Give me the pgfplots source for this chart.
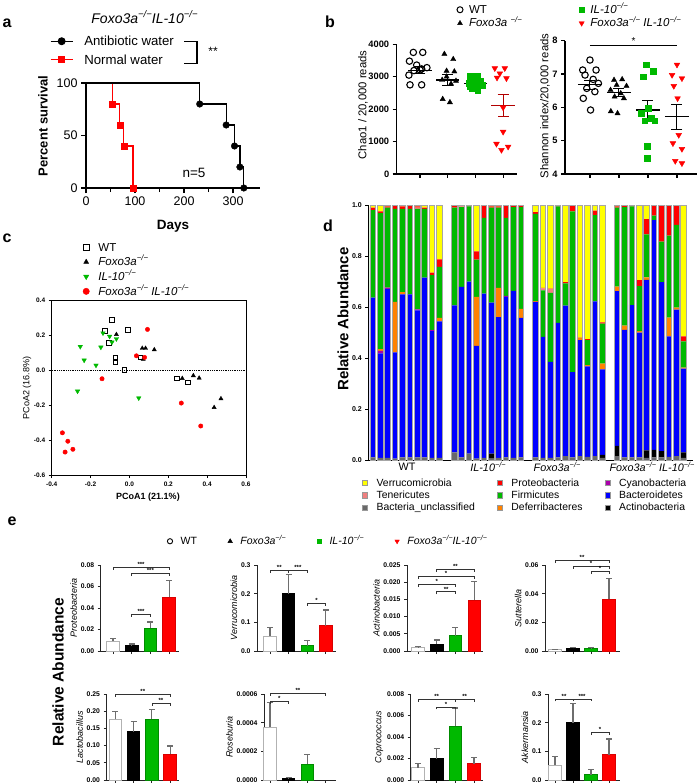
\documentclass[border=0pt]{standalone}
\usepackage{fontspec}
\setmainfont{Liberation Sans}
\usepackage{graphicx}
\usepackage{pgfplots}
\usepackage{pgfplotstable}
\pgfplotsset{compat=1.18}

\definecolor{cgreen}{RGB}{0,185,0}
\definecolor{cyel}{RGB}{255,255,0}
\definecolor{cred}{RGB}{255,0,0}
\definecolor{cpur}{RGB}{170,0,170}
\definecolor{cpink}{RGB}{240,128,128}
\definecolor{cblue}{RGB}{0,0,255}
\definecolor{cgray}{RGB}{105,105,105}
\definecolor{corange}{RGB}{255,130,0}
\definecolor{errgray}{RGB}{110,110,110}

\newcommand\fs[2]{\fontsize{#1}{#2}\selectfont}
\newcommand\mm{\raisebox{0.42em}{\scalebox{0.68}{−/−}}}
\newcommand\sig[5]{%
  \draw[line width=0.7pt, black!80] ([yshift=-2.5pt]axis cs:#1,#4) -- (axis cs:#1,#4) -- (axis cs:#2,#4) -- ([yshift=-2.5pt]axis cs:#2,#4);
  \node[font=\fs{6}{6}\bfseries, anchor=south, inner sep=0.6pt] at (axis cs:#3,#4) {#5};}

\tikzset{mkleg/.style={}, lineleg/.style={}, sqleg/.style={}}
\pgfplotsset{
  every axis/.append style={scale only axis, /pgf/number format/assume math mode=true, /pgf/number format/1000 sep={}},
  lineleg/.style={legend image code/.code={\draw[mark repeat=2,mark phase=2,##1] plot coordinates {(0pt,0pt)(11pt,0pt)(22pt,0pt)};}},
  mkleg/.style={legend image code/.code={\draw[##1] plot[only marks] coordinates {(3pt,0pt)};}},
  sqleg/.style={legend image code/.code={\draw[##1] (0pt,-2.6pt) rectangle (5.2pt,2.6pt);}},
  legax/.style={hide axis, width=1pt, height=1pt, xmin=0, xmax=1, ymin=0, ymax=1, anchor=north west,
     legend style={at={(0,1)}, anchor=north west, draw=none, fill=none, inner sep=0pt, outer sep=0pt,
       nodes={inner sep=0pt, outer sep=0pt}, cells={anchor=west}, #1}},
  errb/.style={error bars/.cd, y dir=plus, y explicit, error bar style={errgray, line width=1.1pt},
       error mark options={errgray, rotate=90, mark size=3pt, line width=1.1pt}},
  bwt/.style={ybar, bar shift=0pt, bar width=12.5pt, fill=white, draw=black!30, line width=0.8pt, errb},
  bfx/.style={ybar, bar shift=0pt, bar width=12.5pt, fill=black, draw=black, line width=0.8pt, errb},
  bil/.style={ybar, bar shift=0pt, bar width=12.5pt, fill=cgreen, draw=cgreen!75!black, line width=0.8pt, errb},
  bdk/.style={ybar, bar shift=0pt, bar width=12.5pt, fill=cred, draw=cred!85!black, line width=0.8pt, errb},
  semb/.style={error bars/.cd, y dir=both, y explicit, error bar style={line width=1pt, #1},
       error mark options={rotate=90, mark size=5.5pt, line width=1pt, #1}},
  eax/.style={anchor=south west, height=86pt, ymin=0, axis lines*=left, tick align=outside, tick pos=left,
     xtick={1,2,3,4}, xticklabels={}, major tick length=3pt,
     axis line style={line width=0.9pt, black!85}, major tick style={line width=0.9pt, black!85},
     yticklabel style={font=\fs{6.8}{7}\bfseries}, scaled y ticks=false,
     ylabel style={font=\fs{9}{10}\itshape, yshift=-3pt}, clip=false},
  eprec/.style={yticklabel style={/pgf/number format/fixed, /pgf/number format/fixed zerofill, /pgf/number format/precision=#1}},
}

\pgfplotstableread{
x gr bk bl pu or gn pk rd ye
0 .010 0 .627 0 0 .343 0 .010 .010
1 .008 0 .410 .010 .007 .533 0 .007 .025
2 .008 0 .662 .006 0 .314 0 .005 .005
3 .005 0 .417 0 .198 .365 0 .013 .002
4 .010 0 .640 0 .008 .327 0 .010 .005
5 .010 0 .640 0 0 .335 0 .012 .003
6 .010 0 .577 .004 0 .394 .005 .005 .005
7 .010 0 .705 0 0 .270 0 .005 .010
8 .008 0 .497 .005 0 .215 0 .010 .265
9 .008 0 .536 0 .013 .200 0 .030 .213
11 .030 0 .576 0 0 .384 0 .008 .002
12 .010 0 .669 0 0 .313 .003 .003 .002
13 .025 0 .675 0 0 .295 0 .004 .001
14 .005 0 .443 0 .192 .146 0 .032 .182
15 .008 0 .644 0 0 .298 0 .048 .002
16 .005 .020 .592 0 0 .373 0 .005 .005
17 .008 0 .552 0 .115 .315 0 .005 .005
18 .010 0 .630 .004 0 .306 0 .050 0
19 .008 0 .655 0 0 .329 0 .005 .003
20 .010 0 .547 0 .036 .399 0 .005 .003
22 .010 0 .610 0 .003 .342 0 .007 .028
23 .008 0 .475 0 0 .182 .008 .002 .325
24 .008 0 .377 0 0 .270 .015 .002 .328
25 .010 0 .528 0 0 .457 0 .004 .001
26 .015 0 .590 0 0 .088 0 .005 .302
27 .010 0 .335 0 0 .630 0 .023 .002
28 .015 0 .455 0 .008 0 0 .002 .520
29 .012 0 .355 0 .005 .098 0 .004 .526
30 .015 0 .607 0 0 .338 0 .018 .022
31 .008 .012 .335 0 .023 .157 0 .005 .460
33 .015 .040 .607 0 .018 .310 0 .005 .005
34 .010 0 .500 0 .017 .465 0 .005 .003
35 .010 0 .597 0 0 .388 0 .003 .002
36 .010 0 .490 0 .005 .177 0 .023 .295
37 .008 .030 .668 0 .010 .169 0 .060 .055
38 .010 .030 .901 0 0 .017 0 .042 0
39 .010 .025 .663 0 0 .158 0 .144 0
40 .012 0 .473 0 .073 .322 0 .120 0
41 .015 0 .575 0 .008 .324 0 .078 0
42 .008 .022 .328 0 .004 .103 0 .020 .515
}\ddata

\begin{document}
\begin{tikzpicture}
\useasboundingbox (0pt,0pt) rectangle (698pt,-783pt);

% ---------------- panel letters
\node[font=\fs{16}{18}\bfseries] at (7pt,-23pt) {a};
\node[font=\fs{16}{18}\bfseries] at (330pt,-22pt) {b};
\node[font=\fs{16}{18}\bfseries] at (7pt,-238pt) {c};
\node[font=\fs{16}{18}\bfseries] at (328pt,-226pt) {d};
\node[font=\fs{16}{18}\bfseries] at (12pt,-521pt) {e};

% ---------------- panel a
\begin{axis}[at={(86pt,-188pt)}, anchor=south west, width=174pt, height=105pt,
  xmin=0, xmax=355, ymin=0, ymax=100, axis lines*=left, tick align=outside, tick pos=left,
  axis line style={line width=1.3pt}, major tick style={line width=1.3pt, black}, minor tick style={line width=1.3pt, black},
  major tick length=5pt, minor tick length=4pt,
  xtick={0,100,200,300}, minor xtick={50,150,250}, ytick={0,50,100},
  tick label style={font=\fs{12.5}{14}}, clip=false]
\addplot[cred, line width=1.3pt, const plot] coordinates {(0,100)(54,80)(69,60)(77,40)(96,0)};
\addplot[cred, only marks, mark=square*, mark size=3pt] coordinates {(54,80)(69,60)(77,40)(96,0)};
\addplot[black, line width=1.3pt, const plot] coordinates {(0,100)(232,80)(286,60)(303,40)(314,20)(322,0)};
\addplot[black, only marks, mark=*, mark size=3.3pt] coordinates {(232,80)(286,60)(303,40)(314,20)(322,0)};
\end{axis}
\begin{axis}[legax={font=\fs{13.2}{15}, row sep=6pt, /tikz/every odd column/.append style={column sep=11pt},
   /tikz/every even column/.append style={text height=11pt, text depth=3pt}}, at={(50pt,-35pt)}]
\addlegendimage{lineleg, black, line width=1.3pt, mark=*, mark size=3.3pt}
\addlegendentry{Antibiotic water}
\addlegendimage{lineleg, cred, line width=1.3pt, mark=square*, mark size=3pt}
\addlegendentry{Normal water}
\end{axis}
\draw[line width=1.1pt] (184pt,-41.5pt) -- (197pt,-41.5pt) -- (197pt,-63.5pt) -- (184pt,-63.5pt);
\node[font=\fs{12}{12}] at (213pt,-51pt) {**};
\node[font=\fs{14}{16}\itshape] at (144.5pt,-16.7pt) {Foxo3a\mm IL-10\mm};
\node[font=\fs{13.5}{15}] at (194pt,-173pt) {n=5};
\node[rotate=90, font=\fs{13}{15}\bfseries] at (43pt,-126pt) {Percent survival};
\node[font=\fs{13.5}{15}\bfseries] at (173pt,-226pt) {Days};

% ---------------- panel b (Chao1)
\begin{axis}[at={(396.7pt,-174pt)}, anchor=south west, width=120pt, height=129.7pt,
  xmin=0.16, xmax=4.49, ymin=0, ymax=4000, axis lines*=left, tick align=outside, tick pos=left,
  axis line style={line width=1.1pt}, major tick style={line width=1.1pt, black}, major tick length=4pt,
  xtick={1,2,3,4}, xticklabels={}, ytick={0,1000,2000,3000,4000},
  yticklabel style={font=\fs{9.3}{10}\bfseries}, clip=false]
\addplot[only marks, mark=o, mark size=3.2pt, black, line width=1.1pt] coordinates {
 (0.76,3750)(1.1,3750)(0.62,3480)(0.88,3360)(1.06,3240)(1.25,3280)(0.78,3190)(0.6,3050)(1.0,3210)(0.64,2750)(1.06,2750)};
\addplot[only marks, mark=triangle*, mark size=3pt, black] coordinates {
 (1.88,3700)(2.2,3540)(1.96,3180)(2.24,3160)(1.8,2900)(2.12,2780)(1.82,2310)(2.08,2210)(1.96,3000)(2.3,2870)};
\addplot[only marks, mark=square*, mark size=2.9pt, cgreen] coordinates {
 (2.82,3020)(3.06,3020)(2.94,2900)(3.18,2850)(2.76,2800)(3.0,2750)(3.24,2750)(2.88,2650)(3.08,2580)(2.82,2720)};
\addplot[only marks, mark=triangle*, mark size=3.3pt, cred, mark options={rotate=180}] coordinates {
 (3.7,3260)(4.06,3260)(3.88,3100)(4.12,2950)(3.78,2970)(4.0,2050)(4.0,1300)(3.76,930)(4.18,840)(3.94,740)};
\addplot[black, line width=1.1pt] coordinates {(0.58,3200)(1.42,3200)};
\addplot[black, line width=1.1pt] coordinates {(1.58,2900)(2.42,2900)};
\addplot[black, line width=1.1pt] coordinates {(2.58,2800)(3.42,2800)};
\addplot[cred!70!black, line width=1.1pt] coordinates {(3.58,2120)(4.42,2120)};
\addplot[black, mark=none, semb=black] coordinates {(1,3200) +- (0,100)};
\addplot[black, mark=none, semb=black] coordinates {(2,2900) +- (0,160)};
\addplot[black, mark=none, semb=black] coordinates {(3,2800) +- (0,55)};
\addplot[black, mark=none, semb={cred!70!black}] coordinates {(4,2120) +- (0,345)};
\end{axis}
\node[rotate=90, font=\fs{11.3}{12}] at (363pt,-105pt) {Chao1 / 20,000 reads};

% ---------------- panel b (Shannon)
\begin{axis}[at={(565pt,-174pt)}, anchor=south west, width=132pt, height=133.3pt,
  xmin=0.14, xmax=4.69, ymin=4, ymax=8, axis lines*=left, tick align=outside, tick pos=left,
  axis line style={line width=1.1pt}, major tick style={line width=1.1pt, black}, major tick length=4pt,
  xtick={1,2,3,4}, xticklabels={}, ytick={4,5,6,7,8},
  yticklabel style={font=\fs{9.3}{10}\bfseries}, clip=false]
\addplot[only marks, mark=o, mark size=3.2pt, black, line width=1.1pt] coordinates {
 (1.0,7.42)(0.75,7.12)(1.21,7.12)(0.83,6.97)(1.11,6.84)(1.29,6.72)(0.89,6.57)(1.17,6.47)(0.77,6.27)(1.02,5.92)};
\addplot[only marks, mark=triangle*, mark size=3pt, black] coordinates {
 (1.83,6.82)(2.11,6.84)(1.92,6.67)(2.26,6.64)(1.71,6.52)(2.06,6.42)(1.85,6.32)(2.17,6.27)(1.72,5.88)(1.95,5.82)};
\addplot[only marks, mark=square*, mark size=2.9pt, cgreen] coordinates {
 (2.94,7.28)(3.17,7.08)(2.83,6.92)(3.0,5.97)(2.77,5.82)(3.11,5.67)(3.23,5.6)(2.89,5.6)(2.97,4.84)(2.97,4.47)};
\addplot[only marks, mark=triangle*, mark size=3.3pt, cred, mark options={rotate=180}] coordinates {
 (4.0,7.28)(3.83,6.97)(4.17,6.87)(3.89,6.64)(4.02,6.27)(4.06,5.17)(3.86,4.92)(4.17,4.75)(3.94,4.39)(4.17,4.32)};
\addplot[black, line width=1.1pt] coordinates {(0.58,6.68)(1.42,6.68)};
\addplot[black, line width=1.1pt] coordinates {(1.58,6.45)(2.42,6.45)};
\addplot[black, line width=1.1pt] coordinates {(2.58,5.92)(3.42,5.92)};
\addplot[black, line width=1.1pt] coordinates {(3.58,5.72)(4.42,5.72)};
\addplot[black, mark=none, semb=black] coordinates {(1,6.68) +- (0,0.13)};
\addplot[black, mark=none, semb=black] coordinates {(2,6.45) +- (0,0.12)};
\addplot[black, mark=none, semb=black] coordinates {(3,5.92) +- (0,0.30)};
\addplot[black, mark=none, semb=black] coordinates {(4,5.72) +- (0,0.37)};
\draw[line width=1pt] (axis cs:1,7.87) -- (axis cs:4,7.87);
\node[font=\fs{10}{10}, anchor=south, inner sep=0.5pt] at (axis cs:2.5,7.87) {*};
\end{axis}
\node[rotate=90, font=\fs{11.3}{12}] at (545pt,-106pt) {Shannon index/20,000 reads};
\begin{axis}[legax={font=\fs{11.5}{12}, legend columns=2, row sep=3pt,
   /tikz/every odd column/.append style={column sep=6pt},
   /tikz/every even column/.append style={column sep=57pt, text height=9pt, text depth=2.5pt}}, at={(457pt,-4.5pt)}]
\addlegendimage{mkleg, black, mark=o, mark size=3pt, line width=1pt}
\addlegendentry{WT}
\addlegendimage{mkleg, cgreen, mark=square*, mark size=2.8pt}
\addlegendentry{\itshape IL-10\mm}
\addlegendimage{mkleg, black, mark=triangle*, mark size=2.8pt}
\addlegendentry{\itshape Foxo3a \mm}
\addlegendimage{mkleg, cred, mark=triangle*, mark size=3pt, mark options={rotate=180}}
\addlegendentry{\itshape Foxo3a\mm\ IL-10\mm}
\end{axis}

% ---------------- panel c
\begin{axis}[at={(51.7pt,-475pt)}, anchor=south west, width=194.3pt, height=175pt,
  xmin=-0.4, xmax=0.6, ymin=-0.6, ymax=0.4, tick align=outside, tick pos=left,
  axis line style={line width=0.9pt}, major tick style={line width=0.9pt, black}, major tick length=3pt,
  xtick={-0.4,-0.2,0,0.2,0.4,0.6}, ytick={-0.6,-0.4,-0.2,0,0.2,0.4},
  tick label style={font=\fs{6.5}{7}\bfseries, /pgf/number format/fixed, /pgf/number format/fixed zerofill, /pgf/number format/precision=1}]
\addplot[black, densely dotted, line width=0.8pt] coordinates {(-0.4,0)(0.6,0)};
\addplot[only marks, mark=square, mark size=2.4pt, black, line width=0.9pt] coordinates {
 (-0.09,0.288)(-0.124,0.222)(-0.009,0.230)(-0.107,0.153)(-0.072,0.072)(-0.072,0.043)(-0.026,0.0)(0.057,0.072)(0.243,-0.048)(0.302,-0.071)};
\addplot[only marks, mark=triangle*, mark size=2.4pt, black] coordinates {
 (-0.067,0.203)(0.066,0.124)(0.083,0.124)(0.128,0.116)(0.071,0.062)(0.272,-0.048)(0.329,-0.032)(0.359,-0.046)(0.436,-0.214)(0.471,-0.164)};
\addplot[only marks, mark=triangle*, mark size=2.6pt, cgreen, mark options={rotate=180}] coordinates {
 (-0.253,0.134)(-0.233,0.056)(-0.172,0.027)(-0.267,-0.121)(-0.147,0.130)(-0.136,0.211)(-0.102,0.192)(-0.067,0.178)(-0.090,0.159)(0.048,-0.160)};
\addplot[only marks, mark=*, mark size=2.2pt, cred] coordinates {
 (0.093,0.232)(0.036,0.081)(0.078,0.072)(-0.141,-0.050)(0.267,-0.189)(0.367,-0.320)(-0.345,-0.359)(-0.317,-0.407)(-0.331,-0.469)(-0.291,-0.453)};
\end{axis}
\node[rotate=90, font=\fs{9}{10}] at (27pt,-388pt) {PCoA2 (16.8\%)};
\node[font=\fs{9}{10}\bfseries] at (148pt,-497pt) {PCoA1 (21.1\%)};
\begin{axis}[legax={font=\fs{11.5}{12}, row sep=4.2pt,
   /tikz/every odd column/.append style={column sep=9pt},
   /tikz/every even column/.append style={text height=9pt, text depth=2.5pt}}, at={(83pt,-242pt)}]
\addlegendimage{mkleg, black, mark=square, mark size=2.8pt, line width=1pt}
\addlegendentry{WT}
\addlegendimage{mkleg, black, mark=triangle*, mark size=2.8pt}
\addlegendentry{\itshape Foxo3a\mm}
\addlegendimage{mkleg, cgreen, mark=triangle*, mark size=3pt, mark options={rotate=180}}
\addlegendentry{\itshape IL-10\mm}
\addlegendimage{mkleg, cred, mark=*, mark size=3.2pt}
\addlegendentry{\itshape Foxo3a\mm\ IL-10\mm}
\end{axis}

% ---------------- panel d
\begin{axis}[at={(368.3pt,-460pt)}, anchor=south west, width=324.7pt, height=255pt,
  xmin=-0.6, xmax=43.28, ymin=0, ymax=1, ybar stacked, bar width=5.6pt,
  axis lines*=left, tick align=outside, tick pos=left, xtick=\empty,
  ytick={0,0.2,0.4,0.6,0.8,1},
  axis line style={line width=0.9pt}, major tick style={line width=0.9pt, black}, major tick length=3pt,
  yticklabel style={font=\fs{7}{8}\bfseries, /pgf/number format/fixed, /pgf/number format/fixed zerofill, /pgf/number format/precision=1}]
\addplot[fill=cgray, draw=none] table[x=x, y=gr]{\ddata};
\addplot[fill=black, draw=none] table[x=x, y=bk]{\ddata};
\addplot[fill=cblue, draw=none] table[x=x, y=bl]{\ddata};
\addplot[fill=cpur, draw=none] table[x=x, y=pu]{\ddata};
\addplot[fill=corange, draw=none] table[x=x, y=or]{\ddata};
\addplot[fill=cgreen, draw=none] table[x=x, y=gn]{\ddata};
\addplot[fill=cpink, draw=none] table[x=x, y=pk]{\ddata};
\addplot[fill=cred, draw=none] table[x=x, y=rd]{\ddata};
\addplot[fill=cyel, draw=none] table[x=x, y=ye]{\ddata};
\end{axis}
\begin{axis}[at={(368.3pt,-460pt)}, anchor=south west, width=324.7pt, height=255pt, hide axis,
  xmin=-0.6, xmax=43.28, ymin=0, ymax=1]
\addplot[ybar, bar shift=0pt, bar width=5.6pt, fill=none, draw=black!35, line width=0.5pt]
  table[x=x, y expr={\thisrow{gr}+\thisrow{bk}+\thisrow{bl}+\thisrow{pu}+\thisrow{or}+\thisrow{gn}+\thisrow{pk}+\thisrow{rd}+\thisrow{ye}}]{\ddata};
\end{axis}
\node[rotate=90, font=\fs{15}{17}\bfseries] at (343pt,-319pt) {Relative Abundance};
\node[font=\fs{10.8}{12}] at (407pt,-467pt) {WT};
\node[font=\fs{10.8}{12}\itshape] at (488pt,-467pt) {IL-10\mm};
\node[font=\fs{10.8}{12}\itshape] at (557pt,-467pt) {Foxo3a\mm};
\node[font=\fs{10.8}{12}\itshape] at (652pt,-467pt) {Foxo3a\mm\ IL-10\mm};
\begin{axis}[legax={font=\fs{10.4}{11}, legend columns=3, row sep=2.9pt,
   /tikz/every odd column/.append style={column sep=9pt},
   /tikz/every even column/.append style={column sep=22pt, text height=8pt, text depth=2.5pt}}, at={(362pt,-478pt)}]
\addlegendimage{sqleg, fill=cyel, draw=black!40} \addlegendentry{Verrucomicrobia}
\addlegendimage{sqleg, fill=cred, draw=black!40} \addlegendentry{Proteobacteria}
\addlegendimage{sqleg, fill=cpur, draw=black!40} \addlegendentry{Cyanobacteria}
\addlegendimage{sqleg, fill=cpink, draw=black!40} \addlegendentry{Tenericutes}
\addlegendimage{sqleg, fill=cgreen, draw=black!40} \addlegendentry{Firmicutes}
\addlegendimage{sqleg, fill=cblue, draw=black!40} \addlegendentry{Bacteroidetes}
\addlegendimage{sqleg, fill=cgray, draw=black!40} \addlegendentry{Bacteria\_unclassified}
\addlegendimage{sqleg, fill=corange, draw=black!40} \addlegendentry{Deferribacteres}
\addlegendimage{sqleg, fill=black, draw=black!40} \addlegendentry{Actinobacteria}
\end{axis}

% ---------------- panel e legend
\begin{axis}[legax={font=\fs{10.5}{11}, legend columns=4,
   /tikz/every odd column/.append style={column sep=8pt},
   /tikz/every even column/.append style={column sep=31pt, text height=8pt, text depth=2.5pt}}, at={(167.4pt,-536.5pt)}]
\addlegendimage{mkleg, black, mark=o, mark size=2.6pt, line width=0.9pt}
\addlegendentry{WT}
\addlegendimage{mkleg, black, mark=triangle*, mark size=2.6pt}
\addlegendentry{\itshape Foxo3a\mm}
\addlegendimage{mkleg, cgreen, mark=square*, mark size=2.4pt}
\addlegendentry{\itshape IL-10\mm}
\addlegendimage{mkleg, cred, mark=triangle*, mark size=2.6pt, mark options={rotate=180}}
\addlegendentry{\itshape Foxo3a\mm IL-10\mm}
\end{axis}
\node[rotate=90, font=\fs{15.5}{17}\bfseries] at (58pt,-672pt) {Relative Abundance};

% e1 Proteobacteria
\begin{axis}[eax, at={(100.7pt,-651pt)}, width=78.3pt, xmin=0.34, xmax=4.53, ymax=0.08,
  ytick={0,0.02,0.04,0.06,0.08}, eprec=2, ylabel={Proteobacteria}]
\addplot[bwt] coordinates {(1,0.009) +- (0,0.003)};
\addplot[bfx] coordinates {(2,0.005) +- (0,0.0015)};
\addplot[bil] coordinates {(3,0.021) +- (0,0.006)};
\addplot[bdk] coordinates {(4,0.050) +- (0,0.0155)};
\sig{1}{4}{2.5}{0.078}{***}
\sig{2}{4}{3}{0.072}{***}
\sig{2}{3}{2.5}{0.034}{***}
\end{axis}
% e2 Verrucomicrobia
\begin{axis}[eax, at={(257pt,-651pt)}, width=78.6pt, xmin=0.30, xmax=4.53, ymax=0.3,
  ytick={0,0.1,0.2,0.3}, eprec=1, ylabel={Verrucomicrobia}]
\addplot[bwt] coordinates {(1,0.052) +- (0,0.031)};
\addplot[bfx] coordinates {(2,0.20) +- (0,0.068)};
\addplot[bil] coordinates {(3,0.018) +- (0,0.019)};
\addplot[bdk] coordinates {(4,0.088) +- (0,0.055)};
\sig{1}{2}{1.5}{0.280}{**}
\sig{2}{3}{2.5}{0.280}{***}
\sig{3}{4}{3.5}{0.166}{*}
\end{axis}
% e3 Actinobacteria
\begin{axis}[eax, at={(407pt,-651pt)}, width=76pt, xmin=0.41, xmax=4.47, ymax=0.025,
  ytick={0,0.005,0.01,0.015,0.02,0.025}, eprec=3, ylabel={Actinobacteria}]
\addplot[bwt] coordinates {(1,0.001) +- (0,0.0003)};
\addplot[bfx] coordinates {(2,0.002) +- (0,0.0012)};
\addplot[bil] coordinates {(3,0.0045) +- (0,0.0023)};
\addplot[bdk] coordinates {(4,0.0148) +- (0,0.0055)};
\sig{2}{4}{3}{0.0237}{**}
\sig{1}{4}{2.5}{0.0218}{*}
\sig{1}{3}{2}{0.0194}{*}
\sig{2}{3}{2.5}{0.0172}{**}
\end{axis}
% e4 Sutterella
\begin{axis}[eax, at={(545pt,-651pt)}, width=75pt, xmin=0.44, xmax=4.61, ymax=0.06,
  ytick={0,0.02,0.04,0.06}, eprec=2, ylabel={Sutterella}]
\addplot[bwt] coordinates {(1,0.0008) +- (0,0.0003)};
\addplot[bfx] coordinates {(2,0.0018) +- (0,0.0007)};
\addplot[bil] coordinates {(3,0.0017) +- (0,0.0006)};
\addplot[bdk] coordinates {(4,0.036) +- (0,0.0145)};
\sig{1}{4}{2.5}{0.063}{**}
\sig{2}{4}{3}{0.0593}{*}
\sig{3}{4}{3.5}{0.0553}{*}
\end{axis}
% e5 Lactobacillus
\begin{axis}[eax, at={(106.5pt,-780pt)}, width=72.5pt, xmin=0.51, xmax=4.49, ymax=0.25,
  ytick={0,0.05,0.1,0.15,0.2,0.25}, eprec=2, ylabel={Lactobacillus}]
\addplot[bwt] coordinates {(1,0.177) +- (0,0.023)};
\addplot[bfx] coordinates {(2,0.140) +- (0,0.030)};
\addplot[bil] coordinates {(3,0.176) +- (0,0.029)};
\addplot[bdk] coordinates {(4,0.075) +- (0,0.024)};
\sig{1}{4}{2.5}{0.25}{**}
\sig{3}{4}{3.5}{0.223}{**}
\end{axis}
% e6 Roseburia
\begin{axis}[eax, at={(264pt,-780pt)}, width=71.6pt, xmin=0.68, xmax=4.53, ymax=0.0006,
  ytick={0,0.0002,0.0004,0.0006}, eprec=4, ylabel={Roseburia}]
\addplot[bwt] coordinates {(1,0.00037) +- (0,0.00017)};
\addplot[bfx] coordinates {(2,0.00001) +- (0,0.000005)};
\addplot[bil] coordinates {(3,0.00011) +- (0,0.00007)};
\sig{1}{2}{1.5}{0.00055}{*}
\sig{1}{4}{2.5}{0.000605}{**}
\end{axis}
% e7 Coprococcus
\begin{axis}[eax, at={(410.7pt,-780pt)}, width=72.3pt, xmin=0.61, xmax=4.48, ymax=0.008,
  ytick={0,0.002,0.004,0.006,0.008}, eprec=3, ylabel={Coprococcus}]
\addplot[bwt] coordinates {(1,0.00115) +- (0,0.0004)};
\addplot[bfx] coordinates {(2,0.002) +- (0,0.0009)};
\addplot[bil] coordinates {(3,0.005) +- (0,0.0017)};
\addplot[bdk] coordinates {(4,0.0015) +- (0,0.0006)};
\sig{1}{3}{2}{0.00753}{**}
\sig{2}{3}{2.5}{0.0068}{*}
\sig{3}{4}{3.5}{0.00753}{**}
\end{axis}
% e8 Akkermansia
\begin{axis}[eax, at={(548pt,-780pt)}, width=72pt, xmin=0.61, xmax=4.61, ymax=0.3,
  ytick={0,0.1,0.2,0.3}, eprec=1, ylabel={Akkermansia}]
\addplot[bwt] coordinates {(1,0.052) +- (0,0.031)};
\addplot[bfx] coordinates {(2,0.20) +- (0,0.068)};
\addplot[bil] coordinates {(3,0.018) +- (0,0.019)};
\addplot[bdk] coordinates {(4,0.088) +- (0,0.055)};
\sig{1}{2}{1.5}{0.283}{**}
\sig{2}{3}{2.5}{0.283}{***}
\sig{3}{4}{3.5}{0.165}{*}
\end{axis}

\end{tikzpicture}
\end{document}
